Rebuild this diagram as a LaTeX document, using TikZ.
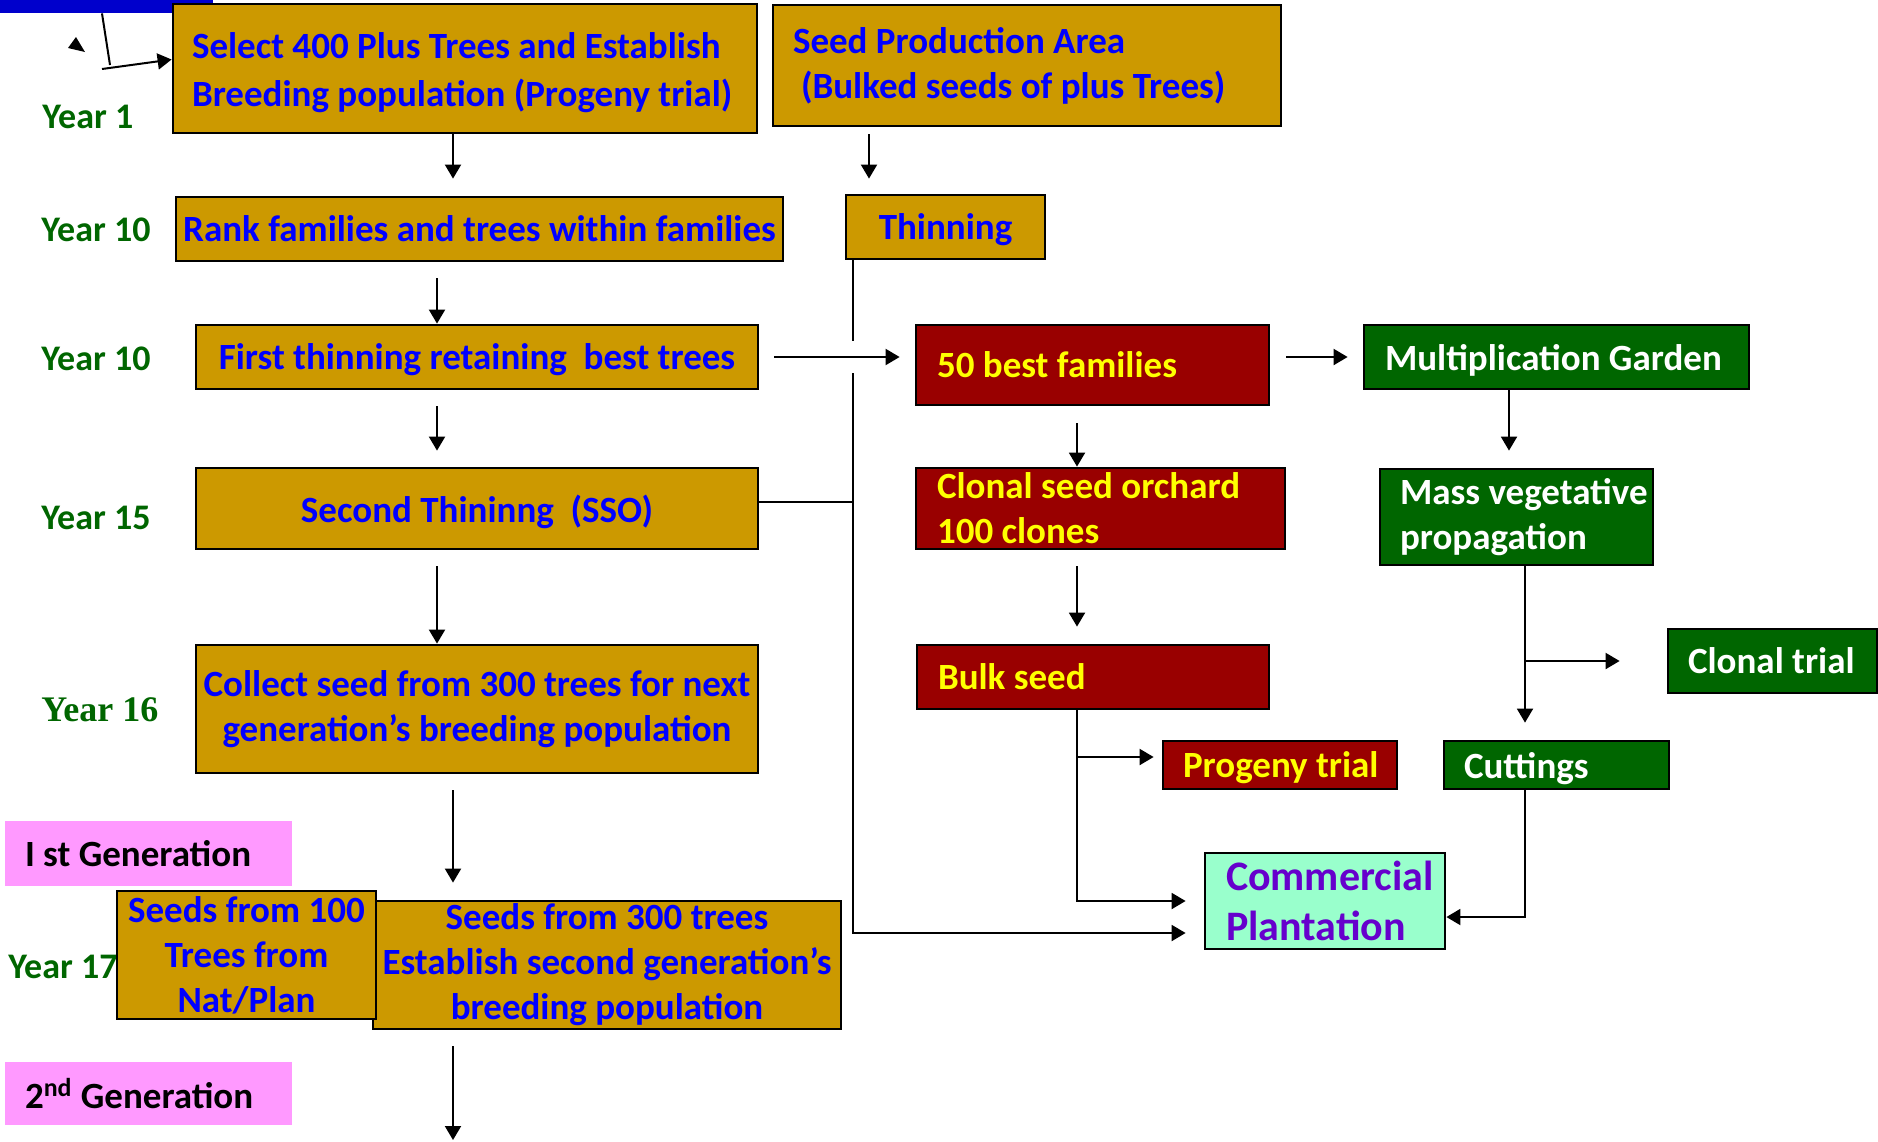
\documentclass[tikz,border=0pt]{standalone}
\usepackage{fontspec}
\setmainfont{Carlito}
\newfontfamily\timesfont{Liberation Serif}
\usetikzlibrary{arrows.meta}

\definecolor{boxgold}{HTML}{CC9900}
\definecolor{boxred}{HTML}{990000}
\definecolor{boxgreen}{HTML}{006600}
\definecolor{yeargreen}{HTML}{006600}
\definecolor{mintfill}{HTML}{99FFCC}
\definecolor{pinkfill}{HTML}{FF99FF}
\definecolor{plumtext}{HTML}{6600CC}
\definecolor{barblue}{HTML}{0000CC}
\definecolor{textblue}{HTML}{0000FF}
\definecolor{textyellow}{HTML}{FFFF00}

\begin{document}
\begin{tikzpicture}[
            x=0.5pt,
            y=-0.5pt,
            box/.style={
                draw=black,
                line width=1.4pt,
                inner ysep=0pt,
                font=\bfseries\fontsize{18.5}{22.5}\selectfont
            },
            goldbox/.style={box, fill=boxgold, text=textblue},
            redbox/.style={box, fill=boxred, text=textyellow},
            greenbox/.style={box, fill=boxgreen, text=white},
            mintbox/.style={box, fill=mintfill, text=plumtext,
                font=\bfseries\fontsize{21}{25}\selectfont},
            pinkbox/.style={box, draw=none, fill=pinkfill, text=black},
            mid/.style={align=center, inner xsep=1pt},
            lft/.style={align=left, inner xsep=0pt,
                execute at begin node={\leftskip=#1\relax\spaceskip=0pt\relax\xspaceskip=0pt\relax}},
            flat/.style={text depth=0pt},
            yr/.style={
                anchor=west,
                inner sep=0pt,
                text=yeargreen,
                font=\bfseries\fontsize{18}{22}\selectfont
            },
            ln/.style={line width=1pt},
            arr/.style={ln, -{Triangle[length=7pt, width=8pt]}}
        ]

            \useasboundingbox (0,0) rectangle (1878,1141);

            % Column guides for the connectors
            \coordinate (cA) at (453,0);
            \coordinate (cB) at (437,0);
            \coordinate (cS) at (869,0);
            \coordinate (cT) at (853,0);
            \coordinate (cR) at (1077,0);
            \coordinate (cG) at (1509,0);
            \coordinate (cH) at (1525,0);
            \coordinate (k1) at (102,0);
            \coordinate (k2) at (110,65);
            \coordinate (k3) at (102,69);
            \coordinate (bottom) at (453,1140);

            % Top left corner
            \node[fill=barblue, minimum width=106.5pt, minimum height=6.5pt, inner sep=0pt] (bar) at (106.5,6.5) {};
            \fill (76,37) -- (68,48) -- (85,52) -- cycle;

            % Year labels
            \node[yr] (y1) at (42,117) {Year 1};
            \node[yr] (y10a) at (41,230) {Year 10};
            \node[yr] (y10b) at (41,359) {Year 10};
            \node[yr] (y15) at (41,518) {Year 15};
            \node[yr, font=\timesfont\bfseries\fontsize{18}{22}\selectfont] (y16) at (41,710) {Year 16};
            \node[yr] (y17) at (8,967) {Year 17};

            % Breeding population
            \node[goldbox, lft=9.5pt, text width=292pt, minimum height=64.5pt,
                font=\bfseries\fontsize{18.5}{24}\selectfont] (sel) at (465,68.5)
                {\rule{0pt}{17pt}Select 400 Plus Trees and Establish\\Breeding population (Progeny trial)};
            \node[goldbox, mid, flat, minimum width=303.5pt, minimum height=32pt] (rank) at (479.5,229) {Rank families and trees within families};
            \node[goldbox, mid, flat, minimum width=281pt, minimum height=32pt] (first) at (477,357) {First thinning retaining~ best trees};
            \node[goldbox, mid, flat, minimum width=281pt, minimum height=40.5pt] (second) at (477,508.5) {Second Thininng~ (SSO)};
            \node[goldbox, mid, minimum width=281pt, minimum height=64pt] (collect) at (477,709) {Collect seed from 300 trees for next\\generation’s breeding population};
            \node[goldbox, mid, minimum width=234pt, minimum height=64pt] (seeds300) at (607,965) {Seeds from 300 trees\\Establish second generation’s\\breeding population};
            \node[goldbox, mid, minimum width=129.5pt, minimum height=64pt] (seeds100) at (246.5,955) {Seeds from 100\\Trees from\\Nat/Plan};

            % Seed production area
            \node[goldbox, lft=10pt, text width=254pt, minimum height=60.5pt] (spa) at (1027,65.5) {Seed Production Area\\\hspace*{4pt}(Bulked seeds of plus Trees)};
            \node[goldbox, mid, flat, minimum width=99.5pt, minimum height=32pt] (thin) at (945.5,227) {Thinning};

            % Seed orchard
            \node[redbox, lft=10.5pt, flat, text width=176.5pt, minimum height=40pt] (best) at (1092.5,365) {50 best families};
            \node[redbox, lft=10.5pt, text width=184.5pt, minimum height=40.5pt] (orch) at (1100.5,508.5) {Clonal seed orchard\\100 clones};
            \node[redbox, lft=10.5pt, flat, text width=176pt, minimum height=32pt] (bulk) at (1093,677) {Bulk seed};
            \node[redbox, lft=10pt, flat, text width=117pt, minimum height=24pt] (prog) at (1280,765) {Progeny trial};

            % Vegetative propagation
            \node[greenbox, lft=10.5pt, flat, text width=192.5pt, minimum height=32pt] (mult) at (1556.5,357) {Multiplication Garden};
            \node[greenbox, lft=10pt, text width=136.5pt, minimum height=48pt] (mass) at (1516.5,517) {Mass vegetative\\propagation};
            \node[greenbox, lft=10pt, flat, text width=104.5pt, minimum height=32pt] (ctrial) at (1772.5,661) {Clonal trial};
            \node[greenbox, lft=10pt, flat, text width=112.5pt, minimum height=24pt] (cut) at (1556.5,765) {Cuttings};

            % Plantation
            \node[mintbox, lft=10.5pt, text width=120pt, minimum height=48pt] (cp) at (1325,901) {Commercial\\Plantation};

            % Generations
            \node[pinkbox, lft=10pt, flat, text width=143.5pt, minimum height=32.5pt] (gen1) at (148.5,853.5) {I st Generation};
            \node[pinkbox, lft=10pt, flat, text width=143.5pt, minimum height=31.5pt] (gen2) at (148.5,1093.5) {2\textsuperscript{nd} Generation};

            % Main column
            \draw[ln] (bar.south -| k1) -- (k2);
            \draw[arr] (k3) -- ([yshift=4.5pt]sel.west);
            \draw[arr, shorten >=8.5pt] (sel.south -| cA) -- (rank.north -| cA);
            \draw[arr, shorten <=8pt] (rank.south -| cB) -- (first.north -| cB);
            \draw[arr, shorten <=8pt, shorten >=8pt] (first.south -| cB) -- (second.north -| cB);
            \draw[arr, shorten <=8pt] (second.south -| cB) -- (collect.north -| cB);
            \draw[arr, shorten <=8pt, shorten >=8.5pt] (collect.south -| cA) -- (seeds300.north -| cA);
            \draw[arr, shorten <=8pt] (seeds300.south -| cA) -- (bottom);

            % Thinning line down to the plantation
            \draw[arr, shorten <=3.5pt, shorten >=7.5pt] (spa.south -| cS) -- (thin.north -| cS);
            \draw[ln] (thin.south -| cT) -- ([yshift=8pt]first.east -| cT);
            \draw[arr, shorten >=9pt] ([yshift=-8pt]first.east -| cT) |- ([yshift=-16pt]cp.west);
            \draw[ln] ([yshift=3.5pt]second.east) -- ([yshift=3.5pt]second.east -| cT);

            % Orchard branch
            \draw[arr, shorten <=7.5pt, shorten >=7.5pt] (first.east) -- (first.east -| best.west);
            \draw[arr, shorten <=8pt, shorten >=7.5pt] (mult.west -| best.east) -- (mult.west);
            \draw[arr, shorten <=8.5pt] (best.south -| cR) -- (orch.north -| cR);
            \draw[arr, shorten <=8pt, shorten >=8.5pt] (orch.south -| cR) -- (bulk.north -| cR);
            \draw[arr, shorten >=9pt] (bulk.south -| cR) |- (cp.west);
            \draw[arr, shorten >=4pt] ([yshift=4pt]cR |- prog.west) -- ([yshift=4pt]prog.west);

            % Vegetative branch
            \draw[arr, shorten >=8.5pt] (mult.south -| cG) -- (mass.north -| cG);
            \draw[arr, shorten >=8.5pt] (mass.south -| cH) -- (cut.north -| cH);
            \draw[arr, shorten >=23.5pt] (cH |- ctrial.west) -- (ctrial.west);
            \draw[arr] (cut.south -| cH) |- ([yshift=-8pt]cp.east);

        \end{tikzpicture}
\end{document}
